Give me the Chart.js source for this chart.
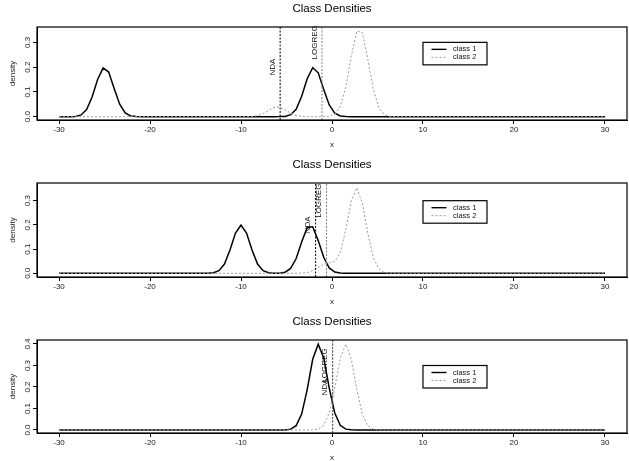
<!DOCTYPE html>
<html><head><meta charset="utf-8">
<script src="https://cdn.jsdelivr.net/npm/chart.js@4.4.1/dist/chart.umd.min.js"></script>
<style>
html,body{margin:0;padding:0;background:#fff;width:629px;height:461px;overflow:hidden;}
canvas{position:absolute;left:0;}
</style></head><body>
<canvas id="c1" width="629" height="154" style="top:0px"></canvas>
<canvas id="c2" width="629" height="153" style="top:154px"></canvas>
<canvas id="c3" width="629" height="154" style="top:307px"></canvas>
<script>
const FONT = "'Liberation Sans', Arial, Helvetica, sans-serif";
const titleText = 'Class Densities';
const xAxisLabel = 'x';
const yAxisLabel = 'density';
const legendLabels = ['class 1', 'class 2'];
const refLabels = ['NDA', 'LOGREG'];
const xTicks = [-30, -20, -10, 0, 10, 20, 30];
const yTicksA = [0, 0.1, 0.2, 0.3];
const yTicksB = [0, 0.1, 0.2, 0.3, 0.4];

// Panel 1 densities [x, density]
const p1Class1 = [[-30,0],[-28.788,0],[-28.182,0.001],[-27.576,0.007],[-26.970,0.029],[-26.364,0.079],[-25.758,0.150],[-25.152,0.197],[-24.545,0.180],[-23.939,0.114],[-23.333,0.050],[-22.727,0.015],[-22.121,0.003],[-21.515,0.0005],[-20.909,0],[-6.364,0],[-5.758,0.0002],[-5.152,0.001],[-4.545,0.008],[-3.939,0.030],[-3.333,0.082],[-2.727,0.153],[-2.121,0.198],[-1.515,0.177],[-0.909,0.110],[-0.303,0.047],[0.303,0.014],[0.909,0.003],[1.515,0.0004],[2.121,0],[30,0]];
const p1Class2 = [[-30,0],[-9.394,0],[-8.788,0.001],[-8.182,0.004],[-7.576,0.012],[-6.970,0.025],[-6.364,0.037],[-5.758,0.039],[-5.152,0.028],[-4.545,0.014],[-3.939,0.005],[-3.333,0.001],[-2.727,0.0002],[-2.121,0],[-1.515,0],[-0.909,0.0002],[-0.303,0.002],[0.303,0.010],[0.909,0.040],[1.515,0.119],[2.121,0.244],[2.727,0.346],[3.333,0.340],[3.939,0.231],[4.545,0.109],[5.152,0.036],[5.758,0.008],[6.364,0.001],[6.970,0.0001],[7.576,0],[30,0]];
const p1Refs = [-5.7, -1.1];

// Panel 2
const p2Class1 = [[-30,0],[-13.636,0],[-13.030,0.002],[-12.424,0.011],[-11.818,0.038],[-11.212,0.096],[-10.606,0.166],[-10.000,0.1995],[-9.394,0.166],[-8.788,0.096],[-8.182,0.038],[-7.576,0.011],[-6.970,0.002],[-6.364,0.0003],[-5.758,0.0007],[-5.152,0.0045],[-4.545,0.020],[-3.939,0.061],[-3.333,0.129],[-2.727,0.189],[-2.121,0.192],[-1.515,0.135],[-0.909,0.066],[-0.303,0.022],[0.303,0.005],[0.909,0.001],[1.515,0],[30,0]];
const p2Class2 = [[-30,0],[-4.545,0],[-3.939,0.0001],[-3.333,0.001],[-2.727,0.003],[-2.121,0.011],[-1.515,0.024],[-0.909,0.037],[-0.303,0.043],[0.303,0.049],[0.909,0.086],[1.515,0.180],[2.121,0.300],[2.727,0.353],[3.333,0.290],[3.939,0.165],[4.545,0.064],[5.152,0.018],[5.758,0.003],[6.364,0.0005],[6.970,0],[30,0]];
const p2Refs = [-1.8, -0.6];

// Panel 3
const p3Class1 = [[-30,0],[-5.758,0],[-5.152,0.0005],[-4.545,0.004],[-3.939,0.020],[-3.333,0.074],[-2.727,0.188],[-2.121,0.329],[-1.515,0.399],[-0.909,0.335],[-0.303,0.195],[0.303,0.079],[0.909,0.022],[1.515,0.004],[2.121,0.0006],[2.727,0],[30,0]];
const p3Class2 = [[-30,0],[-2.727,0],[-2.121,0.0006],[-1.515,0.004],[-0.909,0.022],[-0.303,0.079],[0.303,0.195],[0.909,0.335],[1.515,0.399],[2.121,0.329],[2.727,0.188],[3.333,0.074],[3.939,0.020],[4.545,0.004],[5.152,0.0005],[5.758,0],[30,0]];
const p3Refs = [0.06, 0.08];

const refLabelY = [0.2, 0.3];
const legendAt = [10, 0.3];

const decor = {
  id: 'decor',
  afterDraw(chart) {
    const o = chart.options.plugins.decor;
    const ctx = chart.ctx, a = chart.chartArea, xs = chart.scales.x, ys = chart.scales.y;
    ctx.save();
    ctx.setLineDash([]);
    ctx.strokeStyle = '#000';
    ctx.lineWidth = 1.2;
    ctx.strokeRect(a.left, a.top, a.right - a.left, a.bottom - a.top);
    const cx = (a.left + a.right) / 2;
    ctx.fillStyle = '#000';
    ctx.textAlign = 'center';
    ctx.textBaseline = 'middle';
    ctx.font = '11.5px ' + FONT;
    ctx.fillText(titleText, cx, a.top - 18);
    ctx.fillStyle = '#222';
    ctx.font = '8px ' + FONT;
    ctx.fillText(xAxisLabel, cx, a.bottom + 25);
    ctx.save();
    ctx.translate(13, (a.top + a.bottom) / 2);
    ctx.rotate(-Math.PI / 2);
    ctx.fillText(yAxisLabel, 0, 0);
    ctx.restore();
    o.yTicks.forEach(v => {
      const py = ys.getPixelForValue(v);
      ctx.save();
      ctx.translate(a.left - 9, py);
      ctx.rotate(-Math.PI / 2);
      ctx.fillText(v.toFixed(1), 0, 0);
      ctx.restore();
    });
    // reference line labels
    o.refs.forEach((rx, i) => {
      const px = xs.getPixelForValue(rx);
      const py = ys.getPixelForValue(refLabelY[i]);
      ctx.save();
      ctx.translate(px - 3.5, py);
      ctx.rotate(-Math.PI / 2);
      ctx.textBaseline = 'bottom';
      ctx.fillStyle = '#111';
      ctx.fillText(refLabels[i], 0, 0);
      ctx.restore();
    });
    // legend
    const lx = xs.getPixelForValue(legendAt[0]);
    const ly = ys.getPixelForValue(legendAt[1]);
    ctx.lineWidth = 1.2;
    ctx.strokeStyle = '#000';
    ctx.strokeRect(lx, ly, 64, 22.5);
    const rows = [ly + 7, ly + 15];
    ctx.lineWidth = 1.4;
    ctx.beginPath(); ctx.moveTo(lx + 8.5, rows[0]); ctx.lineTo(lx + 23.5, rows[0]); ctx.stroke();
    ctx.strokeStyle = '#9a9a9a'; ctx.lineWidth = 1; ctx.setLineDash([2, 2]);
    ctx.beginPath(); ctx.moveTo(lx + 8.5, rows[1]); ctx.lineTo(lx + 23.5, rows[1]); ctx.stroke();
    ctx.setLineDash([]);
    ctx.font = '7.5px ' + FONT;
    ctx.textAlign = 'left';
    ctx.textBaseline = 'middle';
    ctx.fillStyle = '#111';
    ctx.fillText(legendLabels[0], lx + 30, rows[0]);
    ctx.fillText(legendLabels[1], lx + 30, rows[1]);
    ctx.restore();
  }
};

function pts(arr) { return arr.map(p => ({x: p[0], y: p[1]})); }

function makeChart(id, cfg) {
  const axisGrid = {drawOnChartArea: false, drawTicks: true, tickLength: 4, color: '#000', lineWidth: 1};
  return new Chart(document.getElementById(id), {
    type: 'line',
    data: {datasets: [
      {data: pts(cfg.c1), borderColor: '#000', borderWidth: 1.5, pointRadius: 0, tension: 0, fill: false, order: 4},
      {data: pts(cfg.c2), borderColor: '#9a9a9a', borderWidth: 1, borderDash: [2, 2], pointRadius: 0, tension: 0, fill: false, order: 3},
      {data: [{x: cfg.refs[0], y: cfg.yMin}, {x: cfg.refs[0], y: cfg.yMax}], borderColor: '#000', borderWidth: 1, borderDash: [2, 1.5], pointRadius: 0, fill: false, order: 2},
      {data: [{x: cfg.refs[1], y: cfg.yMin}, {x: cfg.refs[1], y: cfg.yMax}], borderColor: '#808080', borderWidth: 1, borderDash: [2, 1.5], pointRadius: 0, fill: false, order: 1}
    ]},
    options: {
      responsive: false, animation: false, events: [],
      layout: {padding: {left: 0, right: 2, top: cfg.padTop, bottom: 0}},
      plugins: {legend: {display: false}, tooltip: {enabled: false}, decor: {yTicks: cfg.yTicks, refs: cfg.refs}},
      scales: {
        x: {type: 'linear', min: -32.42, max: 32.42,
            afterBuildTicks: s => { s.ticks = xTicks.map(v => ({value: v})); },
            afterFit: s => { s.height = cfg.bottomSpace; },
            grid: axisGrid, border: {display: true, color: '#000', width: 1},
            ticks: {font: {family: FONT, size: 8}, color: '#222', padding: 1, maxRotation: 0, minRotation: 0, autoSkip: false, callback: v => String(v)}},
        y: {type: 'linear', min: cfg.yMin, max: cfg.yMax,
            afterBuildTicks: s => { s.ticks = cfg.yTicks.map(v => ({value: v})); },
            afterFit: s => { s.width = 37; },
            grid: axisGrid, border: {display: true, color: '#000', width: 1},
            ticks: {display: false}}
      }
    },
    plugins: [decor]
  });
}

makeChart('c1', {c1: p1Class1, c2: p1Class2, refs: p1Refs, yMin: -0.0135, yMax: 0.362, yTicks: yTicksA, padTop: 27, bottomSpace: 34});
makeChart('c2', {c1: p2Class1, c2: p2Class2, refs: p2Refs, yMin: -0.0153, yMax: 0.3731, yTicks: yTicksA, padTop: 29, bottomSpace: 30});
makeChart('c3', {c1: p3Class1, c2: p3Class2, refs: p3Refs, yMin: -0.014, yMax: 0.4186, yTicks: yTicksB, padTop: 33, bottomSpace: 28});
</script>
</body></html>
